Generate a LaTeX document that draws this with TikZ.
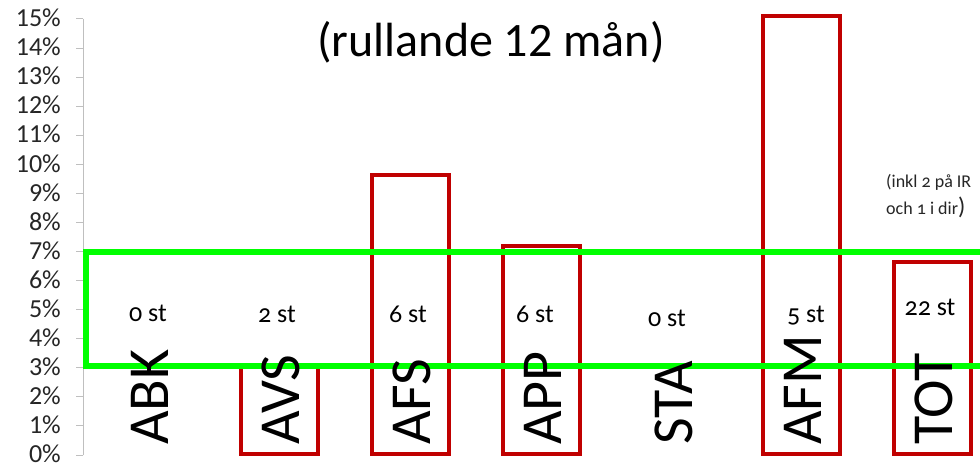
\documentclass[tikz,border=0pt]{standalone}
\usepackage{fontspec}
\setmainfont{Carlito}
\newfontfamily\osf[Numbers=OldStyle]{Carlito}
\definecolor{barred}{HTML}{C00000}
\definecolor{neongreen}{HTML}{00FF00}
\definecolor{axisgray}{HTML}{BFBFBF}
\definecolor{txt}{HTML}{262626}
\begin{document}
\begin{tikzpicture}[x=1pt,y=1pt,
  bar/.style={draw=barred,line width=4pt,fill=white},
  ticklab/.style={anchor=east,inner sep=0pt,font=\fontsize{26}{26}\selectfont,text=txt},
  cnt/.style={anchor=base,inner sep=0pt,font=\osf\fontsize{26}{26}\selectfont,text=black},
  catlab/.style={rotate=90,anchor=base west,inner sep=0pt,font=\fontsize{58}{58}\selectfont,text=black},
  band/.style={draw=neongreen,line width=6pt}]
\useasboundingbox (0,0) rectangle (980,466);
\fill[white] (0,0) rectangle (980,466);
% axis
\coordinate (ax0) at (83,11);
\coordinate (ax15) at (83,447.1);
\draw[axisgray,line width=1pt] (ax0) -- (ax15);
\foreach \p in {0,...,15}{
  \coordinate (t\p) at (83,{11+29.07*\p});
  \draw[axisgray,line width=1pt] (t\p) -- ++(-7,0);
  \node[ticklab] (l\p) at (61,{12+29.07*\p}) {\p\%};
}
% bars (centre x, top in %)
\foreach \n/\c/\t in {avs/279.5/3.1,afs/410.5/9.63,app/541.5/7.2,afm/801.5/15.1,tot/932.5/6.64}{
  \draw[bar] (\c-38.5,12) rectangle (\c+38.5,{11+29.07*\t}) coordinate (b\n);
}
% green band
\draw[band] (86,100) rectangle (995,213.5) coordinate (greenband);
% counts
\node[cnt] (cabk) at (148,144) {0 st};
\node[cnt] (cavs) at (277,143) {2 st};
\node[cnt] (cafs) at (408,143) {6 st};
\node[cnt] (capp) at (535,143) {6 st};
\node[cnt] (csta) at (667,139) {0 st};
\node[cnt] (cafm) at (806,143) {5 st};
\node[cnt] (ctot) at (930,150) {22 st};
% category labels
\node[catlab] (kabk) at (168,21) {ABK};
\node[catlab] (kavs) at (299,21) {AVS};
\node[catlab] (kafs) at (430,21) {AFS};
\node[catlab] (kapp) at (561,21) {APP};
\node[catlab] (ksta) at (692,21) {STA};
\node[catlab] (kafm) at (821,21) {AFM};
\node[catlab] (ktot) at (952,21) {TOT};
% title
\node[anchor=base,inner sep=0pt,font=\fontsize{48}{48}\selectfont] (title) at (491,409) {(rullande 12 mån)};
% side note
\node[anchor=base west,inner sep=0pt,font=\osf\fontsize{18}{18}\selectfont,text=txt] (note1) at (886,278) {(inkl 2 på IR};
\node[anchor=base west,inner sep=0pt,font=\osf\fontsize{18}{18}\selectfont,text=txt] (note2) at (886,251) {och 1 i dir{\fontsize{24}{24}\selectfont)}};
\end{tikzpicture}
\end{document}
